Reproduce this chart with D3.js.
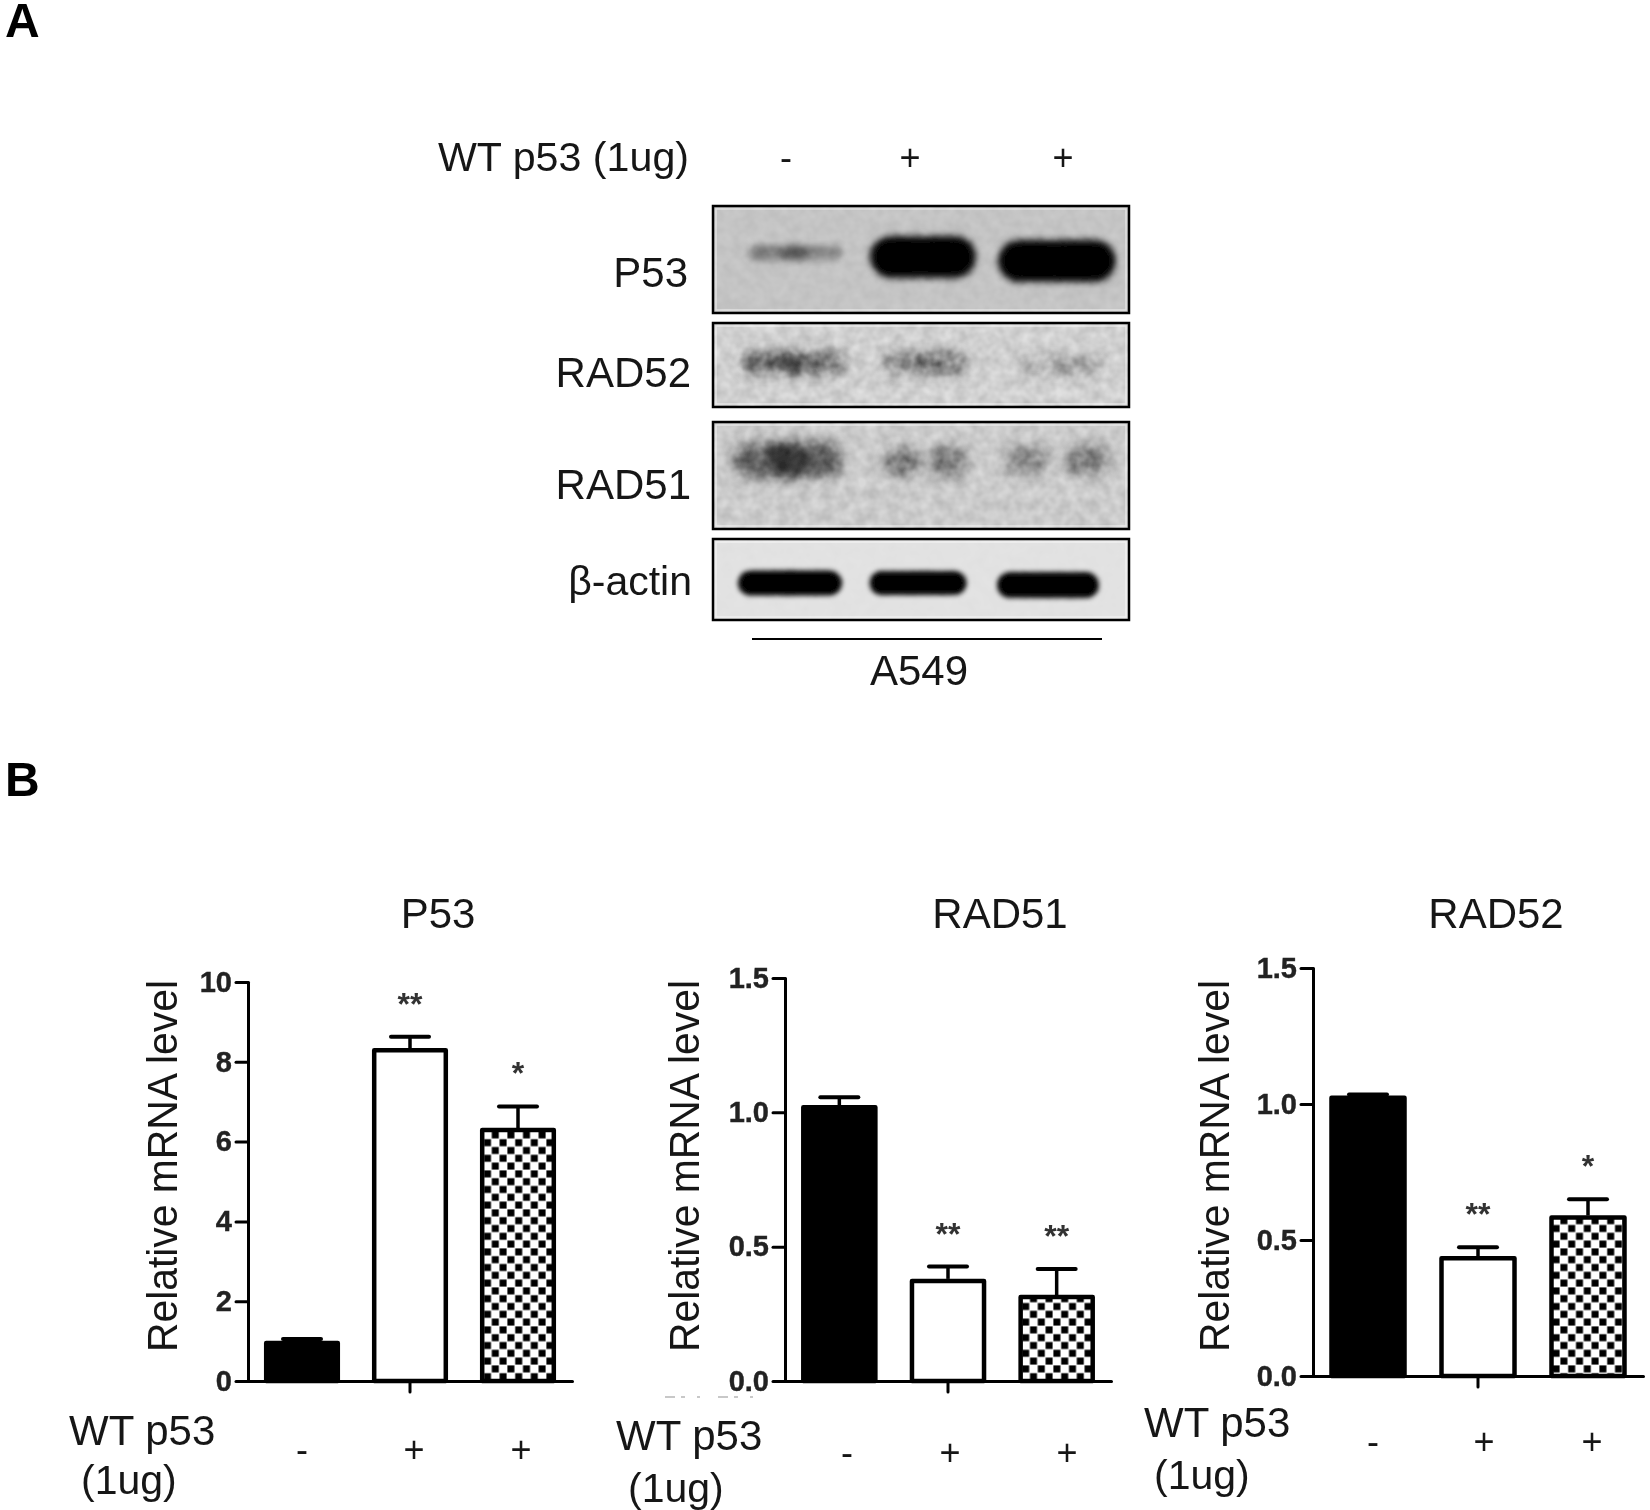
<!DOCTYPE html>
<html>
<head>
<meta charset="utf-8">
<script src="https://cdn.jsdelivr.net/npm/d3@7"></script>
<style>
    html, body { margin: 0; padding: 0; background: #fff; }
    svg { display: block; }
    text { font-family: "Liberation Sans", Arial, sans-serif; fill: #161616; }
    .tickLabels text { font-size: 29px; font-weight: bold; fill: #222; stroke: #222; stroke-width: 0.4px; }
    .axis path, .axis line { stroke: #000; stroke-width: 3px; stroke-linecap: round; stroke-linejoin: round; }
</style>
</head>
<body>
<svg id="figure" width="1650" height="1510"></svg>
<script>
/* ------------------------- DATA ------------------------- */

const groups = ["control", "wt1", "wt2"]
const wtLabels = ["-", "+", "+"]

const p53Values = [1.0, 8.34, 6.34]
const p53Errors = [1.05, 8.63, 6.88]
const p53Stars = ["", "**", "*"]
const p53Ticks = [0, 2, 4, 6, 8, 10]

const rad51Values = [1.026, 0.38, 0.32]
const rad51Errors = [1.056, 0.426, 0.417]
const rad51Stars = ["", "**", "**"]

const rad52Values = [1.03, 0.44, 0.59]
const rad52Errors = [1.035, 0.473, 0.65]
const rad52Stars = ["", "**", "*"]

const ratioTicks = [0, 0.5, 1, 1.5]

// band darkness per lane (left lobe, right lobe), 0 = nothing, 1 = black
const blotP53 = [[0.36, 0.3], [1, 1], [1, 1]]
const blotRad52 = [[0.5, 0.48], [0.32, 0.38], [0.14, 0.22]]
const blotRad51 = [[0.5, 0.52], [0.36, 0.4], [0.32, 0.4]]
const blotActin = [[1, 1], [1, 1], [1, 1]]

/* ------------------------- LAYOUT ------------------------- */

const blots = [
    { name: "P53", bands: blotP53, top: 206, bottom: 313, bg: "#c4c4c4", noise: 0.1, blur: 3.5, lobe: [0.64, 0.64, 0.64],
      cx: [795, 923, 1057], cy: [253, 257, 261], w: [94, 106, 118], h: [15, 42, 42],
      labelX: 688, labelY: 287, labelSize: 42 },
    { name: "RAD52", bands: blotRad52, top: 323, bottom: 407, bg: "#d0d0d0", noise: 0.35, blur: 6, lobe: [0.6, 0.6, 0.6],
      cx: [793, 925, 1060], cy: [363, 363, 365], w: [105, 85, 90], h: [22, 22, 17],
      labelX: 691, labelY: 387, labelSize: 42 },
    { name: "RAD51", bands: blotRad51, top: 422, bottom: 529, bg: "#cbcbcb", noise: 0.28, blur: 6, lobe: [0.68, 0.46, 0.42],
      cx: [788, 925, 1057], cy: [460, 462, 460], w: [110, 85, 105], h: [36, 30, 28],
      labelX: 691, labelY: 499, labelSize: 42 },
    { name: "β-actin", bands: blotActin, top: 539, bottom: 620, bg: "#e2e2e2", noise: 0.06, blur: 2.5, lobe: [0.64, 0.64, 0.64],
      cx: [790, 918, 1048], cy: [583, 583, 585], w: [104, 97, 102], h: [25, 24, 26],
      labelX: 692, labelY: 595, labelSize: 41 }
]
const blotLeft = 713
const blotRight = 1129

const panels = [
    { title: "P53", titleX: 438, values: p53Values, errors: p53Errors, stars: p53Stars,
      ticks: p53Ticks, format: d3.format("d"), max: 10,
      left: 248, right: 572, top: 982, bottom: 1381,
      labelX: [302, 414, 521], labelY: 1462,
      yTitleX: 177, yTitleTop: 980, yTitleBottom: 1352,
      wt: [69, 1445], ug: [81, 1494] },
    { title: "RAD51", titleX: 1000, values: rad51Values, errors: rad51Errors, stars: rad51Stars,
      ticks: ratioTicks, format: d3.format(".1f"), max: 1.5,
      left: 785, right: 1111, top: 978, bottom: 1381,
      labelX: [847, 950, 1067], labelY: 1465,
      yTitleX: 699, yTitleTop: 980, yTitleBottom: 1352,
      wt: [616, 1450], ug: [628, 1502] },
    { title: "RAD52", titleX: 1496, values: rad52Values, errors: rad52Errors, stars: rad52Stars,
      ticks: ratioTicks, format: d3.format(".1f"), max: 1.5,
      left: 1313, right: 1643, top: 968, bottom: 1376,
      labelX: [1373, 1484, 1592], labelY: 1454,
      yTitleX: 1229, yTitleTop: 980, yTitleBottom: 1352,
      wt: [1144, 1437], ug: [1154, 1489] }
]

/* ------------------------- DEFS ------------------------- */

const svg = d3.select("#figure")
const defs = svg.append("defs")

blots.forEach(function (b, i) {
    defs.append("filter").attr("id", "bandBlur" + i)
        .attr("x", "-30%").attr("y", "-60%").attr("width", "160%").attr("height", "220%")
        .append("feGaussianBlur").attr("stdDeviation", b.blur)
})

// grain on top of the blots
const grain = defs.append("filter").attr("id", "grain")
    .attr("color-interpolation-filters", "sRGB")
    .attr("x", 0).attr("y", 0).attr("width", "100%").attr("height", "100%")
grain.append("feTurbulence")
    .attr("type", "fractalNoise").attr("baseFrequency", 0.09).attr("numOctaves", 2).attr("seed", 7)
grain.append("feColorMatrix").attr("type", "matrix")
    .attr("values", "1.6 0 0 0 -0.3  1.6 0 0 0 -0.3  1.6 0 0 0 -0.3  0 0 0 0 1")

defs.append("filter").attr("id", "soft")
    .attr("filterUnits", "userSpaceOnUse")
    .attr("x", 0).attr("y", 0).attr("width", 1650).attr("height", 1510)
    .append("feGaussianBlur").attr("stdDeviation", 0.75)

// checker fill of the third bar
const check = defs.append("pattern").attr("id", "checker")
    .attr("patternUnits", "userSpaceOnUse").attr("width", 15.6).attr("height", 15.6)
check.append("rect").attr("width", 15.6).attr("height", 15.6).attr("fill", "#fff")
check.append("rect").attr("x", 0.4).attr("y", 0.4).attr("width", 7).attr("height", 7).attr("fill", "#000")
check.append("rect").attr("x", 8.2).attr("y", 8.2).attr("width", 7).attr("height", 7).attr("fill", "#000")

const root = svg.append("g").attr("filter", "url(#soft)")

/* ------------------------- PANEL A ------------------------- */

root.append("text").attr("x", 5).attr("y", 37).attr("font-size", 48).attr("font-weight", "bold").style("fill", "#000").text("A")
root.append("text").attr("x", 5).attr("y", 796).attr("font-size", 48).attr("font-weight", "bold").style("fill", "#000").text("B")

root.append("text").attr("x", 689).attr("y", 171).attr("font-size", 41.2).attr("text-anchor", "end").text("WT p53 (1ug)")
root.selectAll("text.lane").data(wtLabels).enter().append("text")
    .attr("class", "lane")
    .attr("x", function (d, i) { return [786, 910, 1063][i] })
    .attr("y", 170)
    .attr("font-size", 36)
    .attr("text-anchor", "middle")
    .text(function (d) { return d })

blots.forEach(function (b, i) {
    let g = root.append("g").attr("class", "blot")

    g.append("rect")
        .attr("x", blotLeft).attr("y", b.top)
        .attr("width", blotRight - blotLeft).attr("height", b.bottom - b.top)
        .attr("fill", b.bg)

    // every lane is two lobes, they overlap in the middle
    let lobes = []
    b.bands.forEach(function (lane, l) {
        lane.forEach(function (dark, side) {
            lobes.push({ dark: dark, lane: l, side: side })
        })
    })

    g.append("g").attr("filter", "url(#bandBlur" + i + ")")
        .selectAll("rect").data(lobes).enter().append("rect")
        .attr("x", function (d) {
            let lw = b.w[d.lane] * b.lobe[d.lane]
            return d.side == 0 ? b.cx[d.lane] - b.w[d.lane] / 2 : b.cx[d.lane] + b.w[d.lane] / 2 - lw
        })
        .attr("y", function (d) { return b.cy[d.lane] - b.h[d.lane] / 2 })
        .attr("width", function (d) { return b.w[d.lane] * b.lobe[d.lane] })
        .attr("height", function (d) { return b.h[d.lane] })
        .attr("rx", function (d) { return b.h[d.lane] / 2 })
        .attr("fill", "#000")
        .attr("fill-opacity", function (d) { return d.dark })

    g.append("rect")
        .attr("x", blotLeft).attr("y", b.top)
        .attr("width", blotRight - blotLeft).attr("height", b.bottom - b.top)
        .attr("filter", "url(#grain)")
        .attr("opacity", b.noise)
        .style("mix-blend-mode", "overlay")

    g.append("rect")
        .attr("x", blotLeft + 3).attr("y", b.top + 3)
        .attr("width", blotRight - blotLeft - 6).attr("height", b.bottom - b.top - 6)
        .attr("fill", "none").attr("stroke", "#fff").attr("stroke-opacity", 0.5).attr("stroke-width", 1.5)

    g.append("rect")
        .attr("x", blotLeft).attr("y", b.top)
        .attr("width", blotRight - blotLeft).attr("height", b.bottom - b.top)
        .attr("fill", "none").attr("stroke", "#000").attr("stroke-width", 2.5)

    root.append("text")
        .attr("x", b.labelX).attr("y", b.labelY)
        .attr("font-size", b.labelSize).attr("text-anchor", "end")
        .text(b.name)
})

root.append("line").attr("x1", 752).attr("x2", 1102).attr("y1", 639).attr("y2", 639)
    .attr("stroke", "#000").attr("stroke-width", 2)
root.append("text").attr("x", 919).attr("y", 685).attr("font-size", 42).attr("text-anchor", "middle").text("A549")

/* ------------------------- PANEL B ------------------------- */

function drawPanel(p) {
    let g = root.append("g").attr("class", "panel")

    let x = d3.scaleBand().domain(groups).range([p.left, p.right]).paddingInner(0.3).paddingOuter(0.15)
    let y = d3.scaleLinear().domain([0, p.max]).range([p.bottom, p.top])

    let rows = groups.map(function (id, i) {
        return { id: id, i: i, value: p.values[i], error: p.errors[i], star: p.stars[i] }
    })

    // error bars go first, the bar covers the lower end
    let err = g.append("g").selectAll("g").data(rows).enter().append("g")
    err.append("line")
        .attr("x1", function (d) { return x(d.id) + x.bandwidth() / 2 })
        .attr("x2", function (d) { return x(d.id) + x.bandwidth() / 2 })
        .attr("y1", function (d) { return y(d.error) })
        .attr("y2", function (d) { return y(d.value) })
        .attr("stroke", "#000").attr("stroke-width", 3.5)
    err.append("line")
        .attr("x1", function (d) { return x(d.id) + x.bandwidth() / 2 - 19 })
        .attr("x2", function (d) { return x(d.id) + x.bandwidth() / 2 + 19 })
        .attr("y1", function (d) { return y(d.error) })
        .attr("y2", function (d) { return y(d.error) })
        .attr("stroke", "#000").attr("stroke-width", 4).attr("stroke-linecap", "round")

    // inset by half the stroke, same as on the sides
    g.append("g").selectAll("rect").data(rows).enter().append("rect")
        .attr("x", function (d) { return x(d.id) + 2 })
        .attr("y", function (d) { return y(d.value) + 2 })
        .attr("width", x.bandwidth() - 4)
        .attr("height", function (d) { return y(0) - y(d.value) - 2 })
        .attr("fill", function (d) { return ["#000", "#fff", "url(#checker)"][d.i] })
        .attr("stroke", "#000").attr("stroke-width", 4.5).attr("stroke-linejoin", "round")

    let yAxis = d3.axisLeft(y).tickValues(p.ticks).tickFormat(p.format).tickSize(12).tickPadding(4).tickSizeOuter(0)
    g.append("g").attr("class", "axis tickLabels")
        .attr("transform", "translate(" + p.left + ",0)")
        .call(yAxis)

    let xAxis = d3.axisBottom(x).tickValues([groups[1]]).tickFormat("").tickSize(11).tickSizeOuter(0)
    g.append("g").attr("class", "axis")
        .attr("transform", "translate(0," + p.bottom + ")")
        .call(xAxis)

    g.selectAll("text.stars").data(rows).enter().append("text")
        .attr("class", "stars")
        .attr("x", function (d) { return x(d.id) + x.bandwidth() / 2 })
        .attr("y", function (d) { return y(d.error) - 41 + 19 })
        .attr("font-size", 32).attr("font-weight", "bold").attr("text-anchor", "middle")
        .style("fill", "#333")
        .text(function (d) { return d.star })

    g.selectAll("text.wt").data(wtLabels).enter().append("text")
        .attr("class", "wt")
        .attr("x", function (d, i) { return p.labelX[i] })
        .attr("y", p.labelY)
        .attr("font-size", 36).attr("text-anchor", "middle")
        .text(function (d) { return d })

    g.append("text").attr("x", p.titleX).attr("y", 928)
        .attr("font-size", 42).attr("text-anchor", "middle").text(p.title)

    g.append("text")
        .attr("transform", "translate(" + p.yTitleX + "," + p.yTitleBottom + ") rotate(-90)")
        .attr("font-size", 42)
        .attr("textLength", p.yTitleBottom - p.yTitleTop).attr("lengthAdjust", "spacingAndGlyphs")
        .text("Relative mRNA level")

    g.append("text").attr("x", p.wt[0]).attr("y", p.wt[1]).attr("font-size", 42).text("WT p53")
    g.append("text").attr("x", p.ug[0]).attr("y", p.ug[1]).attr("font-size", 41).text("(1ug)")
}

panels.forEach(drawPanel)

// faint scan dirt under the second axis
root.append("line").attr("x1", 665).attr("x2", 763).attr("y1", 1397).attr("y2", 1397)
    .attr("stroke", "#c8c8c8").attr("stroke-width", 2).attr("stroke-dasharray", "10 6 4 12 3 18")
</script>
</body>
</html>
